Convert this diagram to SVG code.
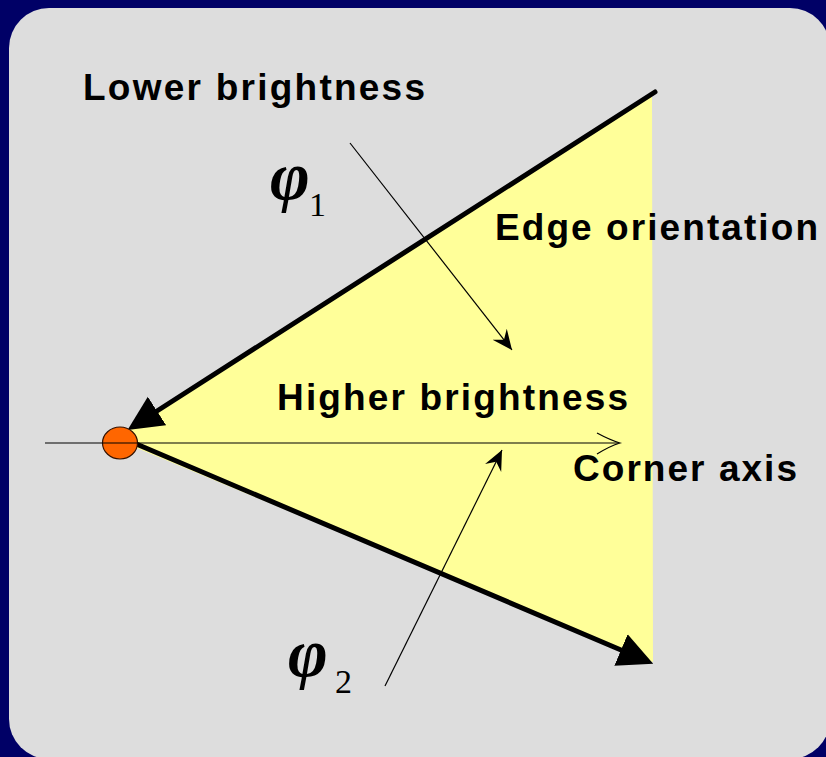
<svg xmlns="http://www.w3.org/2000/svg" width="826" height="757" viewBox="0 0 826 757">
<defs>
<style>
.lbl{font-family:"Liberation Sans",Arial,sans-serif;font-weight:bold;font-size:37px;fill:#000}
.phi{font-family:"Liberation Serif","Times New Roman",serif;font-style:italic;font-weight:bold;font-size:68px;fill:#000}
.sub{font-family:"Liberation Serif","Times New Roman",serif;font-size:34px;fill:#000}
.thick{stroke:#000;stroke-width:5;fill:none;stroke-linecap:round}
.thin{stroke:#000;stroke-width:1.2;fill:none}
</style>
<marker id="bigArrow" markerUnits="userSpaceOnUse" markerWidth="40" markerHeight="36" viewBox="0 -18 40 36" refX="0" refY="0" orient="auto">
<path d="M0,-17 L35,0 L0,17 Z" fill="#000"/>
</marker>
<marker id="stealth" markerUnits="userSpaceOnUse" markerWidth="22" markerHeight="22" viewBox="-20 -11 22 22" refX="0" refY="0" orient="auto">
<path d="M0,0 L-20,-9 L-13,0 L-20,9 Z" fill="#000"/>
</marker>
</defs>
<rect x="0" y="0" width="826" height="757" fill="#000066"/>
<rect x="9" y="8" width="821" height="751" rx="40" ry="40" fill="#dddddd"/>

<g id="wedge">
<polygon points="130,430 652,94 653,662 132,446" fill="#ffff99"/>
</g>

<g id="connectors">
<line class="thin" x1="45" y1="443" x2="619" y2="443"/>
<path class="thin" d="M597,433 Q610,440 620,443 Q610,446 597,454"/>
<line class="thick" x1="655" y1="92" x2="157" y2="411" marker-end="url(#bigArrow)"/>
<line class="thick" x1="134" y1="443" x2="621" y2="650" marker-end="url(#bigArrow)"/>
<line class="thin" x1="350" y1="143" x2="512" y2="350" marker-end="url(#stealth)"/>
<line class="thin" x1="385" y1="686" x2="502" y2="450" marker-end="url(#stealth)"/>
</g>

<g id="corner">
<ellipse cx="120" cy="443" rx="17.5" ry="16" fill="#ff6600" stroke="#331100" stroke-width="1.2"/>
<line x1="102" y1="443" x2="138" y2="443" stroke="#000" stroke-width="1.2"/>
</g>

<g id="labels">
<text class="lbl" x="83" y="100" textLength="342" lengthAdjust="spacing">Lower brightness</text>
<text class="lbl" x="495" y="240" textLength="323" lengthAdjust="spacing">Edge orientation</text>
<text class="lbl" x="277" y="410" textLength="351" lengthAdjust="spacing">Higher brightness</text>
<text class="lbl" x="573" y="481" textLength="224" lengthAdjust="spacing">Corner axis</text>
</g>

<g id="phi1">
<text class="phi" x="270" y="199">φ</text>
<text class="sub" x="309" y="216">1</text>
</g>
<g id="phi2">
<text class="phi" x="288" y="676">φ</text>
<text class="sub" x="335" y="693">2</text>
</g>
</svg>
